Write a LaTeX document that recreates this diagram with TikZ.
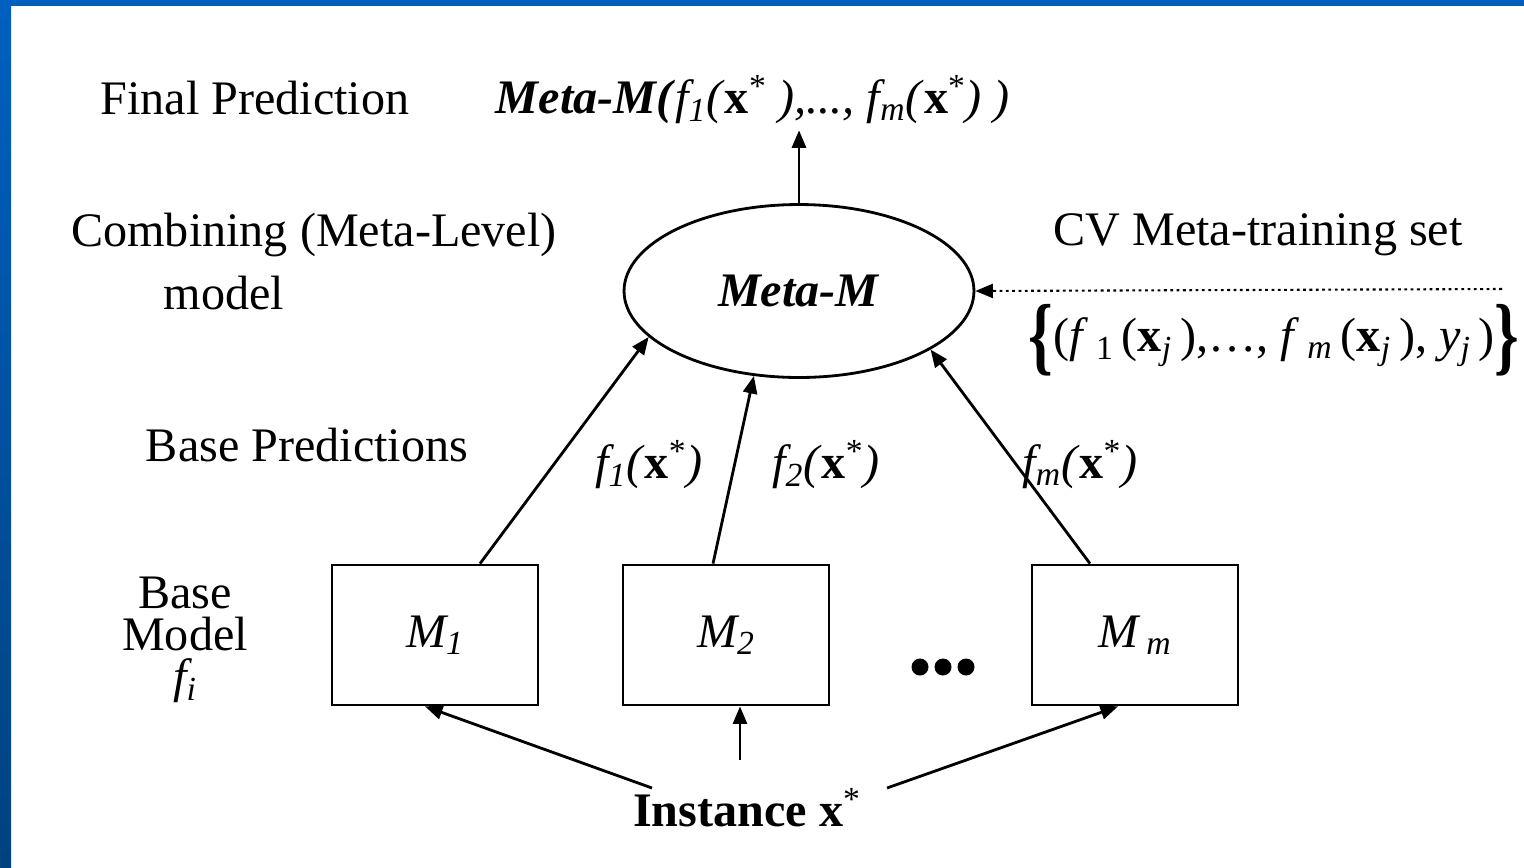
\documentclass[tikz,border=0pt]{standalone}
\usepackage{fontspec}
\setmainfont{Liberation Serif}
\usepackage{graphicx}
\usepackage{tikz}
\usetikzlibrary{arrows.meta,calc,shapes.geometric,positioning}
\definecolor{barblue}{HTML}{0060C0}
\definecolor{bardark}{HTML}{00427F}
\newcommand{\xst}{\textbf{x}\textsuperscript{*}}
\newcommand{\bigbr}[1]{\raisebox{-7pt}{\scalebox{1.3}[1.8]{\textbf{#1}}}}

\begin{document}
\begin{tikzpicture}[x=0.02cm,y=-0.02cm,
    font=\fontsize{27.4}{31}\selectfont,
    arr/.style={line width=1.6pt,-{Triangle[length=10pt,width=8pt]}},
    mbox/.style={draw,line width=1.6pt,minimum width=4.12cm,minimum height=2.8cm}]
  \useasboundingbox (0,0) rectangle (1524,867);
  \fill[barblue] (0,0) rectangle (1524,6);
  \shade[top color=barblue,bottom color=bardark] (0,0) rectangle (11,867);

  % top level
  \node (final) at (255,98) {Final Prediction};
  \node (fout) at (753,100) {\textbf{\textit{Meta-M(}}\textit{f\textsubscript{1}(}\xst\textit{\ ),..., f\textsubscript{m}(}\xst\textit{) )}};
  \node[ellipse,draw,line width=1.6pt,minimum width=7cm,minimum height=3.46cm] (meta) at (799,291) {\textbf{\textit{Meta-M}}};
  \node (comb) at (314,235) {Combining (Meta-Level)};
  \node (model) at (224,293) {model};
  \node (cv) at (1258,235) {CV Meta-training set};
  \coordinate (cvend) at (1502,289);
  \node (set) at (1274,340) {\bigbr{\{}(\textit{f}\,\textsubscript{1}\,(\textbf{x}\textsubscript{\textit{j}}\,),\ldots, \textit{f}\,\textsubscript{\textit{m}}\,(\textbf{x}\textsubscript{\textit{j}}\,), \textit{y}\textsubscript{\textit{j}}\,)\bigbr{\}}};

  % base level
  \node (bpred) at (307,445) {Base Predictions};
  \node[mbox] (m1) at (435,635) {\textit{M\textsubscript{1}}};
  \node[mbox] (m2) at (726,635) {\textit{M\textsubscript{2}}};
  \node[mbox] (mm) at (1135,635) {\textit{M\,\textsubscript{m}}};
  \node[align=center,font=\fontsize{27.4}{24}\selectfont] (basem) at (185,640) {Base\\Model\\\textit{f\textsubscript{i}}};
  \foreach \x in {920,943,966}
    \fill (\x,667) circle (0.17cm);
  \node (p1) at (649,465) {\textit{f\textsubscript{1}(}\xst\textit{)}};
  \node (p2) at (826,465) {\textit{f\textsubscript{2}(}\xst\textit{)}};
  \node (pm) at (1080,465) {\textit{f\textsubscript{m}(}\xst\textit{)}};

  \node (inst) at (747,808) {\textbf{Instance x}\textsuperscript{*}};
  \coordinate (i1) at (652,788);
  \coordinate (i2) at (740,760);
  \coordinate (i3) at (887,788);

  \draw[arr] (meta.north) -- (meta.north |- fout.south);
  \draw[arr,dotted,line width=1.2pt] (cvend) -- (meta.east);
  \draw[arr] ($(m1.north)+(45,0)$) -- (meta.197.7);
  \draw[arr] ($(m2.north)+(-13,0)$) -- (meta.242);
  \draw[arr] ($(mm.north)+(-45,0)$) -- (meta.336.5);
  \draw[arr] (i1) -- ($(m1.south)+(-10,0)$);
  \draw[arr] (i2) -- (i2 |- m2.south);
  \draw[arr] (i3) -- ($(mm.south)+(-17,0)$);
\end{tikzpicture}
\end{document}
